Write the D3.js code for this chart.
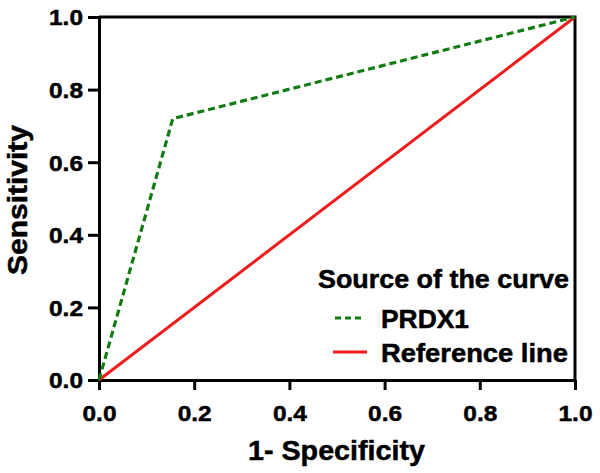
<!DOCTYPE html>
<html>
<head>
<meta charset="utf-8">
<script src="https://cdn.jsdelivr.net/npm/d3@7"></script>
<style>
  body { margin: 0; background: #fff; }
  text { font-family: "Liberation Sans", Arial, sans-serif; font-weight: bold; fill: #000; stroke: #000; stroke-width: 0.5px; }
</style>
</head>
<body>
<svg id="chart" width="600" height="473"></svg>
<script>
// ROC curve points (1 - specificity, sensitivity)
const prdx1 = [[0, 0], [0.155, 0.72], [1, 1]];
const reference = [[0, 0], [1, 1]];
const ticks = [0, 0.2, 0.4, 0.6, 0.8, 1.0];
const legendItems = ["PRDX1", "Reference line"];
const legendColors = ["#127c12", "#ee1c1c"];

const svg = d3.select("#chart");
const m = { left: 99, right: 575, top: 17, bottom: 380 };

const x = d3.scaleLinear().domain([0, 1]).range([m.left, m.right]);
const y = d3.scaleLinear().domain([0, 1]).range([m.bottom, m.top]);

// frame on top and right
svg.append("path")
  .attr("d", `M${m.left},${m.top}H${m.right}V${m.bottom}`)
  .attr("fill", "none").attr("stroke", "#000").attr("stroke-width", 3);

const xAxis = svg.append("g")
  .attr("transform", `translate(0,${m.bottom})`)
  .call(d3.axisBottom(x).tickValues(ticks).tickFormat(d3.format(".1f")).tickSize(10).tickSizeOuter(0));
const yAxis = svg.append("g")
  .attr("transform", `translate(${m.left},0)`)
  .call(d3.axisLeft(y).tickValues(ticks).tickFormat(d3.format(".1f")).tickSize(11).tickSizeOuter(0).tickPadding(5));

[xAxis, yAxis].forEach(a => {
  a.select(".domain").attr("stroke", "#000").attr("stroke-width", 3);
  a.selectAll(".tick line").attr("stroke", "#000").attr("stroke-width", 3);
  a.selectAll(".tick text")
    .style("font-size", "22px").style("font-weight", "bold")
    .style("font-family", "Liberation Sans, Arial, sans-serif")
    .attr("fill", "#000")
    .attr("textLength", 34).attr("lengthAdjust", "spacingAndGlyphs");
});
xAxis.selectAll(".tick text").attr("y", 41).attr("dy", 0);
yAxis.selectAll(".tick text").attr("dy", "0.36em");

const line = d3.line().x(d => x(d[0])).y(d => y(d[1]));

svg.append("path").datum(reference)
  .attr("d", line).attr("fill", "none")
  .attr("stroke", legendColors[1]).attr("stroke-width", 3);

svg.append("path").datum(prdx1)
  .attr("d", line).attr("fill", "none")
  .attr("stroke", legendColors[0]).attr("stroke-width", 3.2)
  .attr("stroke-dasharray", "7,4");

// axis titles
svg.append("text").attr("x", 248).attr("y", 460)
  .style("font-size", "28px")
  .attr("textLength", 177).attr("lengthAdjust", "spacingAndGlyphs")
  .text("1- Specificity");
svg.append("text")
  .attr("transform", "translate(27,275) rotate(-90)")
  .style("font-size", "28px")
  .attr("textLength", 150).attr("lengthAdjust", "spacingAndGlyphs")
  .text("Sensitivity");

// legend
const lg = svg.append("g");
lg.append("text").attr("x", 318).attr("y", 288).style("font-size", "25px")
  .attr("textLength", 251).attr("lengthAdjust", "spacingAndGlyphs")
  .text("Source of the curve");
const legendWidths = [88, 187];
legendItems.forEach((name, i) => {
  const yy = 318 + i * 34;
  lg.append("line").attr("x1", i === 0 ? 335 : 333).attr("x2", i === 0 ? 363 : 367)
    .attr("y1", yy).attr("y2", yy)
    .attr("stroke", legendColors[i]).attr("stroke-width", 3)
    .attr("stroke-dasharray", i === 0 ? "6,4" : null);
  lg.append("text").attr("x", 381).attr("y", yy + 10).style("font-size", "25px")
    .attr("textLength", legendWidths[i]).attr("lengthAdjust", "spacingAndGlyphs")
    .text(name);
});
</script>
</body>
</html>
